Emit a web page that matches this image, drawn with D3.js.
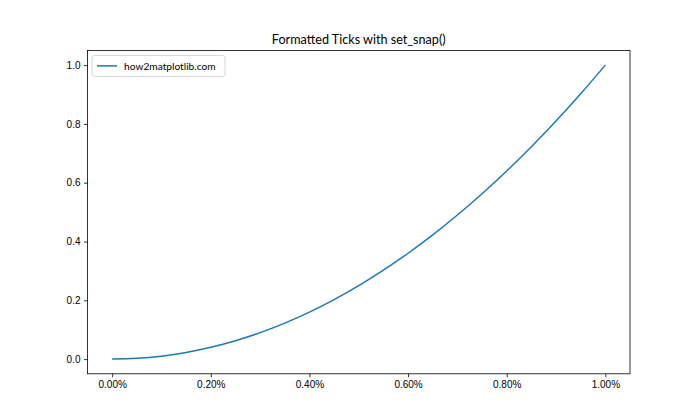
<!DOCTYPE html>
<html><head><meta charset="utf-8">
<script src="https://cdn.jsdelivr.net/npm/d3@7"></script>
<style>body{margin:0;background:#fff}svg{display:block;font-family:"Lato","Liberation Sans",sans-serif}</style>
</head><body>
<svg id="c" width="700" height="420"></svg>
<script>
const title = "Formatted Ticks with set_snap()";
const seriesName = "how2matplotlib.com";
const xValues = [0, 0.05, 0.1, 0.15, 0.2, 0.25, 0.3, 0.35, 0.4, 0.45, 0.5, 0.55, 0.6, 0.65, 0.7, 0.75, 0.8, 0.85, 0.9, 0.95, 1.0];
const yValues = [0, 0.0025, 0.01, 0.0225, 0.04, 0.0625, 0.09, 0.1225, 0.16, 0.2025, 0.25, 0.3025, 0.36, 0.4225, 0.49, 0.5625, 0.64, 0.7225, 0.81, 0.9025, 1.0];
const xTicks = [0, 0.2, 0.4, 0.6, 0.8, 1.0];
const xTickLabels = ["0.00%", "0.20%", "0.40%", "0.60%", "0.80%", "1.00%"];
const yTicks = [0, 0.2, 0.4, 0.6, 0.8, 1.0];
const yTickLabels = ["0.0", "0.2", "0.4", "0.6", "0.8", "1.0"];

const svg = d3.select("#c");
const L = 87.5, R = 630, T = 50.4, B = 373.8;
const x = d3.scaleLinear().domain([-0.05, 1.05]).range([L, R]);
const y = d3.scaleLinear().domain([-0.05, 1.05]).range([B, T]);

const xa = svg.append("g").attr("transform", `translate(0,${B})`)
  .call(d3.axisBottom(x).tickValues(xTicks).tickFormat((d,i)=>xTickLabels[i]).tickSize(3.5).tickPadding(3.5));
const ya = svg.append("g").attr("transform", `translate(${L},0)`)
  .call(d3.axisLeft(y).tickValues(yTicks).tickFormat((d,i)=>yTickLabels[i]).tickSize(3.5).tickPadding(3.5));
[xa, ya].forEach(g => {
  g.select(".domain").remove();
  g.selectAll(".tick line").attr("stroke", "#000").attr("stroke-width", 0.8);
  g.selectAll(".tick text").attr("fill", "#000").style("font-size", "10px").style("font-family", null);
});

const pts = xValues.map((v, i) => [v, yValues[i]]);
svg.append("path").datum(pts)
  .attr("fill", "none").attr("stroke", "#1f77b4").attr("stroke-width", 1.5)
  .attr("d", d3.line().x(d => x(d[0])).y(d => y(d[1])).curve(d3.curveMonotoneX));

svg.append("rect").attr("x", L).attr("y", T).attr("width", R - L).attr("height", B - T)
  .attr("fill", "none").attr("stroke", "#000").attr("stroke-width", 0.8);

svg.append("text").attr("x", (L + R) / 2).attr("y", T - 6).attr("text-anchor", "middle")
  .style("font-size", "12.6px").text(title);

const lg = svg.append("g").attr("transform", `translate(${L + 4.5},${T + 5})`);
lg.append("rect").attr("x", 0).attr("y", 0).attr("width", 133).attr("height", 21).attr("rx", 2.5)
  .attr("fill", "#fff").attr("fill-opacity", 0.8).attr("stroke", "#ccc").attr("stroke-width", 0.8);
lg.append("line").attr("x1", 5).attr("x2", 25).attr("y1", 10.5).attr("y2", 10.5)
  .attr("stroke", "#1f77b4").attr("stroke-width", 1.5);
lg.append("text").attr("x", 32).attr("y", 14.5).style("font-size", "10.2px").text(seriesName);
</script>
</body></html>
